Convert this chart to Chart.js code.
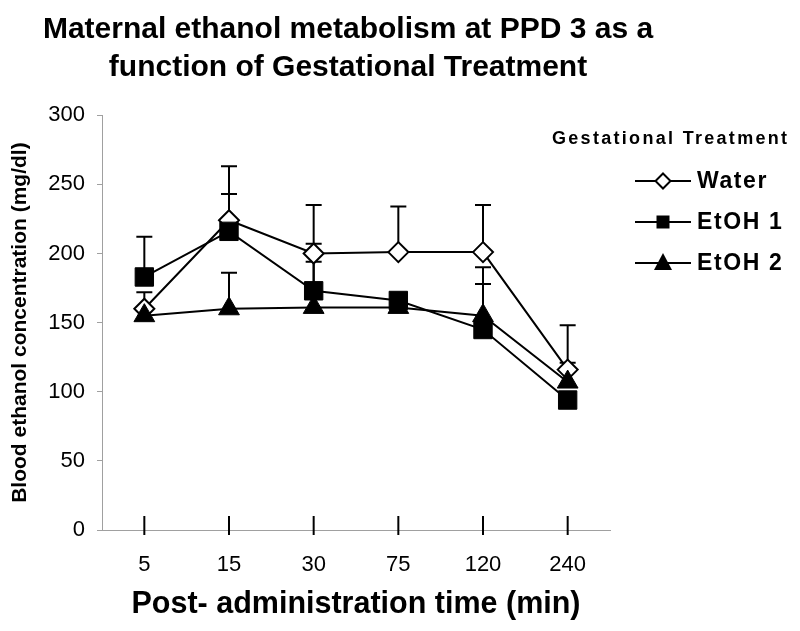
<!DOCTYPE html>
<html><head><meta charset="utf-8">
<script src="https://cdn.jsdelivr.net/npm/chart.js@4"></script>
<style>html,body{margin:0;padding:0;background:#fff;} #wrap{width:800px;height:631px;}</style>
</head><body><div id="wrap"><canvas id="c" width="800" height="631"></canvas></div>
<script>
const categories = ['5', '15', '30', '75', '120', '240'];
const seriesNames = ['Water', 'EtOH 1', 'EtOH 2'];
const waterMeans = [160, 224, 200, 201, 201, 116];
const etoh1Means = [183, 216, 173, 166, 145, 94];
const etoh2Means = [155, 160, 161, 161, 155, 107];
const waterErrTop = [172, 263, 235, 234, 235, 148];
const etoh1ErrTop = [212, 243, 194, null, 178, null];
const etoh2ErrTop = [null, 186, 207, null, 190, 121];
const yTicks = [0, 50, 100, 150, 200, 250, 300];
const titleLines = ['Maternal ethanol metabolism at PPD 3 as a', 'function of Gestational Treatment'];
const xTitle = 'Post- administration time (min)';
const yTitle = 'Blood ethanol concentration (mg/dl)';
const legendTitle = 'Gestational Treatment';

const FONT = "'Liberation Sans', Arial, sans-serif";
const errTops = [waterErrTop, etoh1ErrTop, etoh2ErrTop];

const errorBars = {
  id: 'errorBars',
  beforeDatasetsDraw(chart) {
    const ctx = chart.ctx, xs = chart.scales.x, ys = chart.scales.y;
    ctx.save();
    ctx.strokeStyle = '#000';
    ctx.lineWidth = 2;
    chart.data.datasets.forEach((ds, i) => {
      const tops = errTops[i];
      ds.data.forEach((v, j) => {
        if (tops[j] == null) return;
        const x = xs.getPixelForValue(j);
        const y0 = ys.getPixelForValue(v);
        const y1 = ys.getPixelForValue(tops[j]);
        ctx.beginPath();
        ctx.moveTo(x, y0); ctx.lineTo(x, y1);
        ctx.moveTo(x - 8, y1); ctx.lineTo(x + 8, y1);
        ctx.stroke();
      });
    });
    ctx.restore();
  }
};

const xMarks = {
  id: 'xMarks',
  afterDraw(chart) {
    const ctx = chart.ctx, xs = chart.scales.x, b = chart.chartArea.bottom;
    ctx.save();
    ctx.strokeStyle = '#000';
    ctx.lineWidth = 2;
    xs.ticks.forEach((t, i) => {
      const x = xs.getPixelForTick(i);
      ctx.beginPath(); ctx.moveTo(x, b - 14); ctx.lineTo(x, b + 5); ctx.stroke();
    });
    ctx.restore();
  }
};

function marker(ctx, style, x, y) {
  ctx.save();
  ctx.strokeStyle = '#000';
  ctx.fillStyle = '#000';
  ctx.beginPath();
  if (style === 'rectRot') {
    const r = 7.5;
    ctx.moveTo(x, y - r); ctx.lineTo(x + r, y); ctx.lineTo(x, y + r); ctx.lineTo(x - r, y); ctx.closePath();
    ctx.fillStyle = '#fff'; ctx.fill(); ctx.lineWidth = 2; ctx.stroke();
  } else if (style === 'rect') {
    ctx.rect(x - 6.5, y - 6.5, 13, 13); ctx.fill();
  } else {
    ctx.moveTo(x, y - 10); ctx.lineTo(x + 9, y + 7); ctx.lineTo(x - 9, y + 7); ctx.closePath(); ctx.fill();
  }
  ctx.restore();
}

const customLegend = {
  id: 'customLegend',
  afterDraw(chart) {
    const ctx = chart.ctx;
    ctx.save();
    ctx.fillStyle = '#000';
    ctx.textBaseline = 'middle';
    ctx.textAlign = 'left';
    ctx.font = 'bold 18px ' + FONT;
    try { ctx.letterSpacing = '2.3px'; } catch (e) {}
    ctx.fillText(legendTitle, 552, 139);
    try { ctx.letterSpacing = '1.6px'; } catch (e) {}
    ctx.font = 'bold 23px ' + FONT;
    const ys = [181, 222, 263];
    chart.data.datasets.forEach((ds, i) => {
      const y = ys[i];
      ctx.strokeStyle = '#000'; ctx.lineWidth = 2;
      ctx.beginPath(); ctx.moveTo(635, y); ctx.lineTo(691, y); ctx.stroke();
      marker(ctx, ds.pointStyle, 663, y);
      ctx.fillStyle = '#000';
      ctx.fillText(ds.label, 697, y + 1);
    });
    ctx.restore();
  }
};

new Chart(document.getElementById('c'), {
  type: 'line',
  data: {
    labels: categories,
    datasets: [
      { label: seriesNames[0], data: waterMeans, order: 3, borderColor: '#000', borderWidth: 2, tension: 0,
        pointStyle: 'rectRot', pointRadius: 10, pointBackgroundColor: '#fff', pointBorderColor: '#000', pointBorderWidth: 2 },
      { label: seriesNames[1], data: etoh1Means, order: 2, borderColor: '#000', borderWidth: 2, tension: 0,
        pointStyle: 'rect', pointRadius: 13, pointBackgroundColor: '#000', pointBorderColor: '#000', pointBorderWidth: 1 },
      { label: seriesNames[2], data: etoh2Means, order: 1, borderColor: '#000', borderWidth: 2, tension: 0,
        pointStyle: 'triangle', pointRadius: 12, pointBackgroundColor: '#000', pointBorderColor: '#000', pointBorderWidth: 1 }
    ]
  },
  options: {
    responsive: false,
    animation: false,
    devicePixelRatio: 1,
    layout: { padding: { left: 0, right: 104, top: 0, bottom: 0 } },
    plugins: {
      legend: { display: false },
      tooltip: { enabled: false },
      title: {
        display: true, text: titleLines, color: '#000', fullSize: true,
        font: { family: FONT, size: 30, weight: 'bold', lineHeight: 1.27 },
        padding: { top: 11, bottom: 28 }
      }
    },
    scales: {
      x: {
        type: 'category', offset: true,
        grid: { display: false, drawTicks: false },
        border: { display: true, color: '#a0a0a0', width: 1 },
        ticks: { color: '#000', font: { family: FONT, size: 22 }, padding: 22, maxRotation: 0 },
        title: { display: true, text: xTitle, color: '#000', font: { family: FONT, size: 30.5, weight: 'bold' }, padding: { top: 0, bottom: 8 } },
        afterFit: s => { s.height = 101; }
      },
      y: {
        min: 0, max: 300,
        afterBuildTicks: s => { s.ticks = yTicks.map(v => ({ value: v })); },
        grid: { drawOnChartArea: false, drawTicks: true, tickLength: 5, color: '#a0a0a0' },
        border: { display: true, color: '#a0a0a0', width: 1 },
        ticks: { color: '#000', font: { family: FONT, size: 22 }, padding: 12 },
        title: { display: true, text: yTitle, color: '#000', font: { family: FONT, size: 21, weight: 'bold' }, padding: { top: 8 } },
        afterFit: s => { s.width = 102; }
      },
      yPad: {
        position: 'right', display: true,
        grid: { display: false, drawTicks: false },
        border: { display: false },
        ticks: { display: false },
        afterFit: s => { s.width = 86; }
      }
    }
  },
  plugins: [errorBars, xMarks, customLegend]
});
</script>
</body></html>
